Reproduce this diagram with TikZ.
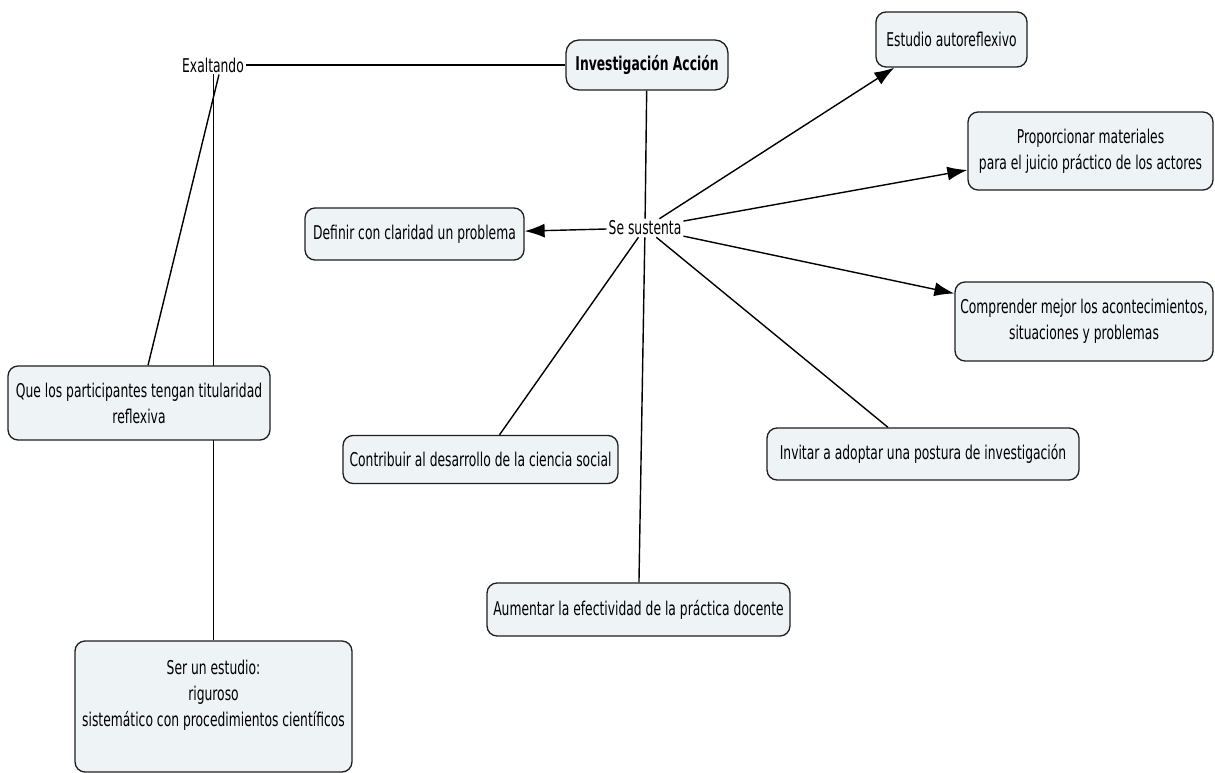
\documentclass[tikz,border=0pt]{standalone}
\usepackage{fontspec}
\setmainfont{DejaVu Sans}[FakeStretch=0.65]
\usetikzlibrary{arrows.meta,calc,backgrounds}
\definecolor{boxfill}{RGB}{238,243,246}
\definecolor{boxline}{RGB}{30,30,30}

\begin{document}
\begin{tikzpicture}[
  x=0.02cm, y=-0.02cm,
  concept/.style={rectangle, rounded corners=0.2cm, draw=boxline, fill=boxfill, line width=0.75pt, align=center, inner sep=0pt},
  word/.style={inner sep=1pt},
  link/.style={line width=0.8pt},
  arrowlink/.style={link, -{Latex[length=0.4cm,width=0.28cm]}},
  font=\fontsize{10.8}{14.8}\selectfont
]
\useasboundingbox (0,0) rectangle (1215,773);

\node[concept, font=\fontsize{10.8}{14.8}\selectfont\bfseries, rounded corners=0.26cm, minimum width=3.24cm, minimum height=1cm] (inv) at (647,65) {Investigación Acción};
\node[word] (exalt) at (213,65) {Exaltando};
\node[word] (sust) at (645,228) {Se sustenta};

\node[concept, minimum width=3.02cm, minimum height=1.1cm] (estudio) at (951.5,39.5) {Estudio autoreflexivo};
\node[concept, minimum width=4.9cm, minimum height=1.56cm] (prop) at (1090.5,151) {Proporcionar materiales\\para el juicio práctico de los actores};
\node[concept, minimum width=4.38cm, minimum height=1.04cm] (defin) at (414.5,234) {Definir con claridad un problema};
\node[concept, minimum width=5.16cm, minimum height=1.58cm] (compr) at (1084,321.5) {Comprender mejor los acontecimientos,\\situaciones y problemas};
\node[concept, minimum width=5.24cm, minimum height=1.48cm] (que) at (139,403) {Que los participantes tengan titularidad\\reflexiva};
\node[concept, minimum width=5.5cm, minimum height=0.96cm] (contrib) at (480.5,459.5) {Contribuir al desarrollo de la ciencia social};
\node[concept, minimum width=6.24cm, minimum height=1.04cm] (invitar) at (923,454) {Invitar a adoptar una postura de investigación};
\node[concept, minimum width=6.06cm, minimum height=1.06cm] (aument) at (638.5,609.5) {Aumentar la efectividad de la práctica docente};
\node[concept, minimum width=5.54cm, minimum height=2.62cm] (ser) at (213.5,706.5) {Ser un estudio:\\riguroso\\sistemático con procedimientos científicos\\ \mbox{}};

% Links
\begin{scope}[on background layer]
\draw[link] (exalt) -- (inv);
\draw[link] (inv) -- (sust);
\draw[link] ($(exalt.south)+(6,0)$) -- ($(que.north)+(9,0)$);
\draw[link] (exalt.south -| ser.north) -- (ser.north);
\draw[link] (sust) -- (aument);
\draw[link] (sust) -- ($(contrib.north)+(19,0)$);
\draw[link] (sust) -- ($(invitar.north)+(-35,0)$);
\end{scope}

% Arrows
\draw[arrowlink] (sust) -- ($(estudio.south west)+(19,0)$);
\draw[arrowlink] (sust) -- ($(prop.west)+(0,19)$);
\draw[arrowlink] (sust) -- ($(compr.west)+(0,-28)$);
\draw[arrowlink] (sust) -- (defin);
\end{tikzpicture}
\end{document}
